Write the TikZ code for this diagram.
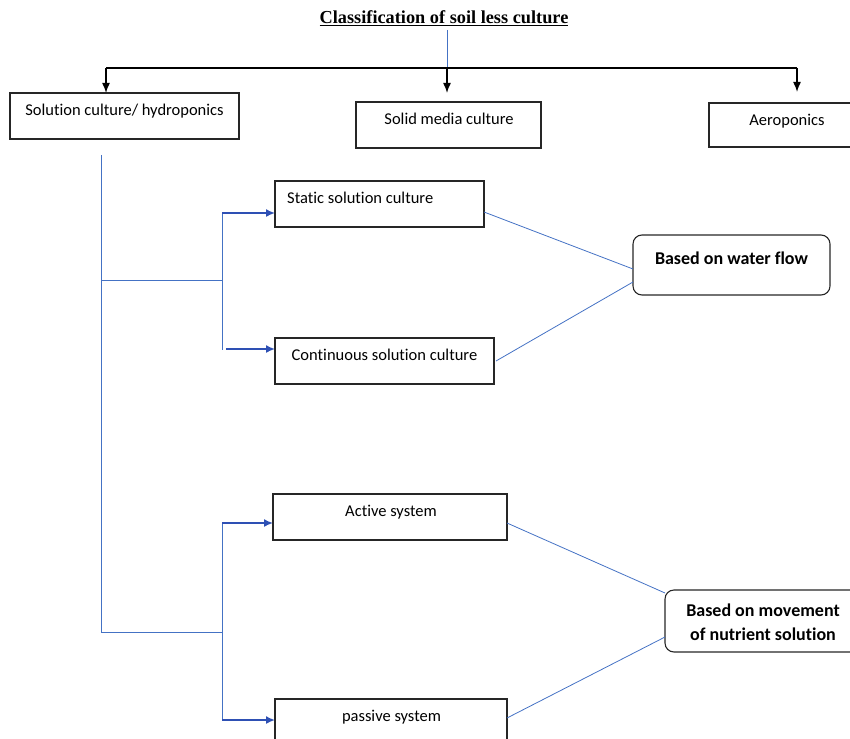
\documentclass[tikz,border=0pt]{standalone}
\usepackage{fontspec}
\setmainfont[Ligatures=NoCommon]{Carlito}
\newfontfamily\titlefont{Liberation Serif}
\usetikzlibrary{calc,arrows.meta}
\definecolor{lineblue}{HTML}{4472C4}
\definecolor{arrowblue}{HTML}{2E50B4}
\begin{document}
\begin{tikzpicture}[x=1pt,y=-1pt,
  box/.style={draw=black!85,line width=1.1pt,rectangle,inner sep=0pt,outer sep=0pt},
  rbox/.style={box,rounded corners=9pt},
  lbl/.style={font=\fontsize{16.5}{19}\selectfont,anchor=base,inner sep=0pt},
  blbl/.style={lbl,font=\fontsize{18}{20}\selectfont\bfseries},
  thinb/.style={draw=lineblue,line width=0.8pt},
  barr/.style={draw=arrowblue,line width=1.6pt,-{Latex[length=9pt,width=8pt]}},
  karr/.style={draw=black,line width=1.5pt,-{Latex[length=10pt,width=8pt]}}]
\useasboundingbox (0,0) rectangle (850,738);
\clip (0,0) rectangle (850,738);
% title
\node[anchor=base,inner sep=0pt,font=\titlefont\fontsize{18.3}{21}\selectfont\bfseries] (title) at (444,24) {\underline{Classification of soil less culture}};
% top-level boxes
\node[box,minimum width=229pt,minimum height=46pt] (sol) at (124.5,116) {};
\node[box,minimum width=185pt,minimum height=46pt] (solid) at (448.5,125) {};
\node[box,minimum width=160pt,minimum height=44pt] (aero) at (789,125) {};
\node[lbl] (tsol) at (124.5,115.5) {Solution culture/ hydroponics};
\node[lbl] (tsolid) at (449,124.5) {Solid media culture};
\node[lbl] (taero) at (787,125.5) {Aeroponics};
% second level boxes
\node[box,minimum width=209pt,minimum height=46pt] (st) at (379.5,204) {};
\node[box,minimum width=219pt,minimum height=46pt] (cs) at (384.5,361) {};
\node[lbl,anchor=base west] (tst) at (287,203.5) {Static solution culture};
\node[lbl] (tcs) at (384.5,360.5) {Continuous solution culture};
\node[rbox,minimum width=197pt,minimum height=60pt] (wf) at (731.5,265) {};
\node[blbl] (twf) at (731.5,264) {Based on water flow};
\node[box,minimum width=234pt,minimum height=46pt] (ac) at (390,517) {};
\node[box,minimum width=232pt,minimum height=50pt] (pa) at (391,724) {};
\node[lbl] (tac) at (391,516.5) {Active system};
\node[lbl] (tpa) at (391.5,721) {passive system};
\node[rbox,minimum width=200pt,minimum height=62pt] (mv) at (765,621) {};
\node[blbl] (tmv1) at (763,616) {Based on movement};
\node[blbl] (tmv2) at (763,640) {of nutrient solution};
% top connectors
\coordinate (tb) at (447,30);
\coordinate (hl) at (106,68);
\coordinate (hm) at (447,68);
\coordinate (hr) at (797,68);
\draw[thinb] (tb) -- (hm);
\draw[black,line width=1.5pt] (hl) -- (hr);
\draw[karr] (hl) -- (hl |- sol.north);
\draw[karr] (hm) -- (447,93);
\draw[karr] (hr) -- (797,92);
% trunk
\coordinate (trt) at (101,155);
\coordinate (trb) at (101,632);
\coordinate (b1) at (101,280);
\coordinate (j1) at (222,280);
\coordinate (b2) at (101,632);
\coordinate (j2) at (222,632);
\draw[thinb] (trt) -- (trb);
\draw[thinb] (b1) -- (j1);
\draw[thinb] (222,213) -- (222,350);
\draw[thinb] (b2) -- (j2);
\draw[thinb] (222,523) -- (222,720);
\draw[barr] (222,213) -- ($(st.west)+(0,9)$);
\draw[barr] (226,349) -- ($(cs.west)+(0,-12)$);
\draw[barr] (222,523) -- ($(ac.west)+(0,6)$);
\draw[barr] (222,720) -- ($(pa.west)+(0,-4)$);
% grouping lines
\draw[thinb] ($(st.east)+(0,8)$) -- ($(wf.west)+(0,4)$);
\draw[thinb] ($(cs.east)+(2,0)$) -- ($(wf.west)+(0,17)$);
\draw[thinb] ($(ac.east)+(0,6)$) -- ($(mv.west)+(0,-28)$);
\draw[thinb] ($(pa.east)+(0,-6)$) -- ($(mv.west)+(0,16)$);
\end{tikzpicture}
\end{document}
